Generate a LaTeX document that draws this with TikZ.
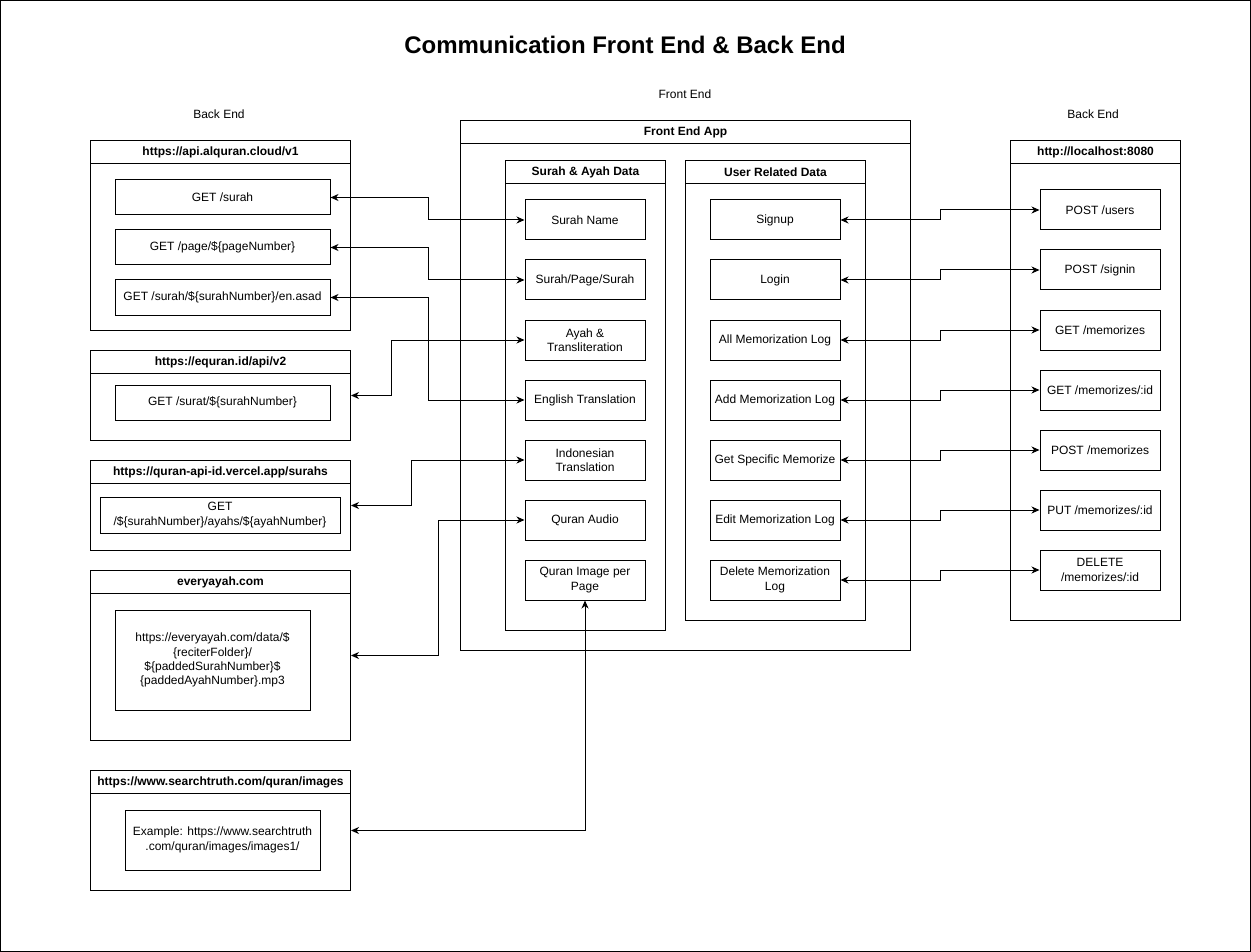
\documentclass[tikz,border=0pt]{standalone}
\usepackage{fontspec}
\setmainfont{Liberation Sans}
\usetikzlibrary{arrows.meta}

\tikzset{
  every node/.style={font=\fontsize{12}{14.4}\selectfont},
  lane/.style={draw, line width=1pt, anchor=north west, inner sep=0pt},
  lanehead/.style={draw, line width=1pt, anchor=north west, minimum height=23pt, inner sep=0pt, font=\fontsize{12}{14.4}\selectfont\bfseries},
  endpoint/.style={draw, line width=1pt, align=center, inner sep=1pt},
  apibox/.style={endpoint, minimum width=215pt, minimum height=35pt},
  frontbox/.style={endpoint, minimum width=120pt, minimum height=40pt},
  userbox/.style={endpoint, minimum width=130pt, minimum height=40pt},
  backbox/.style={endpoint, minimum width=120pt, minimum height=40pt},
  link/.style={line width=1pt, {Stealth[length=8pt,width=7pt,inset=2.5pt]}-{Stealth[length=8pt,width=7pt,inset=2.5pt]}},
}

\begin{document}
\begin{tikzpicture}
\begin{scope}[x=1pt,y=-1pt]
\useasboundingbox (0,0) rectangle (1251,952);
\draw[line width=1pt] (0.5,0.5) rectangle (1250.5,951.5);

% titles
\node[font=\fontsize{24}{28}\selectfont\bfseries] (title) at (625,45) {Communication Front End \& Back End};
\node (backleft) at (219,114) {Back End};
\node (frontlabel) at (685,94) {Front End};
\node (backright) at (1093,114) {Back End};

% back end (left)
\node[lane, minimum width=260pt, minimum height=190pt] (alquran) at (90,140) {};
\node[lanehead, minimum width=260pt] (alquranhead) at (90,140) {https://api.alquran.cloud/v1};
\node[apibox] (getsurah) at (222.5,197.5) {GET /surah};
\node[apibox] (getpage) at (222.5,247.5) {GET /page/\$\{pageNumber\}};
\node[apibox] (getasad) at (222.5,297.5) {GET /surah/\$\{surahNumber\}/en.asad};

\node[lane, minimum width=260pt, minimum height=90pt] (equran) at (90,350) {};
\node[lanehead, minimum width=260pt] (equranhead) at (90,350) {https://equran.id/api/v2};
\node[apibox] (getsurat) at (222.5,402.5) {GET /surat/\$\{surahNumber\}};

\node[lane, minimum width=260pt, minimum height=90pt] (quranapi) at (90,460) {};
\node[lanehead, minimum width=260pt] (quranapihead) at (90,460) {https://quran-api-id.vercel.app/surahs};
\node[endpoint, minimum width=240pt, minimum height=36pt] (getayahs) at (220,515) {GET\\/\$\{surahNumber\}/ayahs/\$\{ayahNumber\}};

\node[lane, minimum width=260pt, minimum height=170pt] (everyayah) at (90,570) {};
\node[lanehead, minimum width=260pt] (everyayahhead) at (90,570) {everyayah.com};
\node[endpoint, minimum width=195pt, minimum height=100pt] (audiourl) at (212.5,660) {https://everyayah.com/data/\$\\\{reciterFolder\}/\\\$\{paddedSurahNumber\}\$\\\{paddedAyahNumber\}.mp3};

\node[lane, minimum width=260pt, minimum height=120pt] (searchtruth) at (90,770) {};
\node[lanehead, minimum width=260pt] (searchtruthhead) at (90,770) {https://www.searchtruth.com/quran/images};
\node[endpoint, minimum width=195pt, minimum height=60pt] (imageurl) at (222.5,840) {Example: https://www.searchtruth\\.com/quran/images/images1/};

% front end
\node[lane, minimum width=450pt, minimum height=530pt] (frontapp) at (460,120) {};
\node[lanehead, minimum width=450pt] (frontapphead) at (460,120) {Front End App};

\node[lane, minimum width=160pt, minimum height=470pt] (surahdata) at (505,160) {};
\node[lanehead, minimum width=160pt] (surahdatahead) at (505,160) {Surah \& Ayah Data};
\node[frontbox] (surahname) at (585,220) {Surah Name};
\node[frontbox] (surahpage) at (585,280) {Surah/Page/Surah};
\node[frontbox] (ayah) at (585,340) {Ayah \&\\Transliteration};
\node[frontbox] (english) at (585,400) {English Translation};
\node[frontbox] (indo) at (585,460) {Indonesian\\Translation};
\node[frontbox] (audio) at (585,520) {Quran Audio};
\node[frontbox] (image) at (585,580) {Quran Image per\\Page};

\node[lane, minimum width=180pt, minimum height=460pt] (userdata) at (685,160) {};
\node[lanehead, minimum width=180pt] (userdatahead) at (685,160) {User Related Data};
\node[userbox] (signup) at (775,220) {Signup};
\node[userbox] (login) at (775,280) {Login};
\node[userbox] (alllog) at (775,340) {All Memorization Log};
\node[userbox] (addlog) at (775,400) {Add Memorization Log};
\node[userbox] (getlog) at (775,460) {Get Specific Memorize};
\node[userbox] (editlog) at (775,520) {Edit Memorization Log};
\node[userbox] (deletelog) at (775,580) {Delete Memorization\\Log};

% back end (right)
\node[lane, minimum width=170pt, minimum height=480pt] (localhost) at (1010,140) {};
\node[lanehead, minimum width=170pt] (localhosthead) at (1010,140) {http://localhost:8080};
\node[backbox] (postusers) at (1100,210) {POST /users};
\node[backbox] (postsignin) at (1100,270) {POST /signin};
\node[backbox] (getmem) at (1100,330) {GET /memorizes};
\node[backbox] (getmemid) at (1100,390) {GET /memorizes/:id};
\node[backbox] (postmem) at (1100,450) {POST /memorizes};
\node[backbox] (putmem) at (1100,510) {PUT /memorizes/:id};
\node[backbox] (deletemem) at (1100,570) {DELETE\\/memorizes/:id};

% links left
\draw[link] (getsurah.east) -- ++(98,0) |- (surahname.west);
\draw[link] (getpage.east) -- ++(98,0) |- (surahpage.west);
\draw[link] (getasad.east) -- ++(98,0) |- (english.west);
\draw[link] (equran.east) -- ++(40,0) |- (ayah.west);
\draw[link] (quranapi.east) -- ++(60,0) |- (indo.west);
\draw[link] (everyayah.east) -- ++(87,0) |- (audio.west);
\draw[link] (searchtruth.east) -| (image.south);

% links right
\draw[link] (signup.east) -- ++(100,0) |- (postusers.west);
\draw[link] (login.east) -- ++(100,0) |- (postsignin.west);
\draw[link] (alllog.east) -- ++(100,0) |- (getmem.west);
\draw[link] (addlog.east) -- ++(100,0) |- (getmemid.west);
\draw[link] (getlog.east) -- ++(100,0) |- (postmem.west);
\draw[link] (editlog.east) -- ++(100,0) |- (putmem.west);
\draw[link] (deletelog.east) -- ++(100,0) |- (deletemem.west);

\end{scope}
\end{tikzpicture}
\end{document}
